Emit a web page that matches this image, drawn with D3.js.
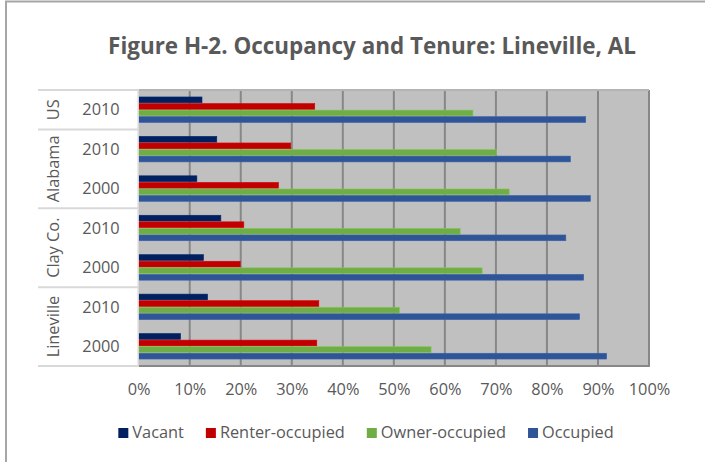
<!DOCTYPE html>
<html>
<head>
<meta charset="utf-8">
<script src="https://cdn.jsdelivr.net/npm/d3@7"></script>
<style>
  body { margin: 0; background: #fff; }
  svg text { font-family: 'Open Sans', sans-serif; fill: #595959; }
</style>
</head>
<body>
<svg id="chart" width="705" height="462"></svg>
<script>
// rows, top to bottom as drawn
const places = ["US", "Alabama", "Clay Co.", "Lineville"];
const rowPlace = ["US", "Alabama", "Alabama", "Clay Co.", "Clay Co.", "Lineville", "Lineville"];
const rowYear = ["2010", "2010", "2000", "2010", "2000", "2010", "2000"];

const seriesNames = ["Vacant", "Renter-occupied", "Owner-occupied", "Occupied"];
const seriesColors = ["#002060", "#c00000", "#70ad47", "#2f5597"];

// percent values per row
const vacant   = [12.4, 15.3, 11.4, 16.1, 12.7, 13.5, 8.2];
const renter   = [34.5, 29.8, 27.4, 20.6, 19.9, 35.3, 34.9];
const owner    = [65.5, 70.1, 72.6, 63.0, 67.3, 51.1, 57.3];
const occupied = [87.6, 84.6, 88.5, 83.7, 87.2, 86.4, 91.7];

const xTicks = [0, 10, 20, 30, 40, 50, 60, 70, 80, 90, 100];

const seriesValues = [vacant, renter, owner, occupied];
const rows = rowYear.map((y, i) => i);

const svg = d3.select("#chart");

// pick font sizes by matching widths seen in the picture
function fitSize(str, target, weight) {
  const t = svg.append("text").attr("font-size", 100).attr("font-weight", weight || "normal").text(str);
  const w = t.node().getComputedTextLength();
  t.remove();
  return 100 * target / w;
}
const labelSize = fitSize("Renter-occupied", 125);
const titleSize = fitSize("Figure H-2. Occupancy and Tenure: Lineville, AL", 528, "bold");

// outer frame (only left and top visible)
svg.append("rect")
  .attr("x", 6).attr("y", 1.5)
  .attr("width", 760).attr("height", 520)
  .attr("fill", "none")
  .attr("stroke", "#a6a6a6")
  .attr("stroke-width", 2);

svg.append("text")
  .attr("x", 372).attr("y", 54)
  .attr("text-anchor", "middle")
  .attr("font-size", titleSize)
  .attr("font-weight", "bold")
  .text("Figure H-2. Occupancy and Tenure: Lineville, AL");

const plot = { left: 138.7, right: 649, top: 90, bottom: 366 };

const x = d3.scaleLinear().domain([0, 100]).range([plot.left, plot.right]);
const y = d3.scaleBand().domain(rows).range([plot.top, plot.bottom])
  .paddingInner(1 / 3).paddingOuter(1 / 6);
const ySeries = d3.scaleBand().domain(d3.range(seriesNames.length)).range([0, y.bandwidth()]);

// plot background
svg.append("rect")
  .attr("x", plot.left).attr("y", plot.top)
  .attr("width", plot.right - plot.left).attr("height", plot.bottom - plot.top)
  .attr("fill", "#c0c0c0");

// gridlines
svg.append("g").selectAll("line")
  .data(xTicks.slice(1))
  .join("line")
  .attr("x1", d => x(d)).attr("x2", d => x(d))
  .attr("y1", plot.top).attr("y2", plot.bottom)
  .attr("stroke", "#878787")
  .attr("stroke-width", 2);

// top edge of plot
svg.append("line")
  .attr("x1", plot.left).attr("x2", plot.right)
  .attr("y1", plot.top).attr("y2", plot.top)
  .attr("stroke", "#b4b4b4").attr("stroke-width", 2);
// bottom edge
svg.append("line")
  .attr("x1", plot.left).attr("x2", plot.right + 1)
  .attr("y1", plot.bottom).attr("y2", plot.bottom)
  .attr("stroke", "#878787").attr("stroke-width", 2);

// bars
const rowG = svg.append("g").selectAll("g")
  .data(rows)
  .join("g")
  .attr("transform", r => `translate(0,${y(r)})`);

rowG.selectAll("rect")
  .data(r => seriesValues.map((vals, s) => ({ s: s, v: vals[r] })))
  .join("rect")
  .attr("x", x(0))
  .attr("y", d => ySeries(d.s) + 0.4)
  .attr("width", d => x(d.v) - x(0))
  .attr("height", ySeries.bandwidth() - 0.8)
  .attr("fill", d => seriesColors[d.s])
  .attr("stroke", d => d3.color(seriesColors[d.s]).brighter(0.4))
  .attr("stroke-width", 0.6);

// category axis: separators between places
const step = y.step();
const placeBounds = places.map(p => {
  const idx = rows.filter(r => rowPlace[r] === p);
  return { p: p, y0: y(idx[0]) - step * y.paddingInner() / 2, y1: y(idx[idx.length - 1]) + y.bandwidth() + step * y.paddingInner() / 2 };
});

svg.append("g").selectAll("line")
  .data([plot.top].concat(placeBounds.map(b => Math.min(b.y1, plot.bottom))))
  .join("line")
  .attr("x1", 38).attr("x2", plot.left)
  .attr("y1", d => d).attr("y2", d => d)
  .attr("stroke", "#d9d9d9")
  .attr("stroke-width", 2);

svg.append("line")
  .attr("x1", plot.left - 0.5).attr("x2", plot.left - 0.5)
  .attr("y1", plot.top).attr("y2", plot.bottom)
  .attr("stroke", "#d9d9d9").attr("stroke-width", 1.5);

// year labels
svg.append("g").selectAll("text")
  .data(rows)
  .join("text")
  .attr("x", 101)
  .attr("y", r => y(r) + y.bandwidth() / 2)
  .attr("dy", "0.35em")
  .attr("text-anchor", "middle")
  .attr("font-size", labelSize)
  .text(r => rowYear[r]);

// place labels, rotated
svg.append("g").selectAll("text")
  .data(placeBounds)
  .join("text")
  .attr("transform", b => `translate(53,${(b.y0 + b.y1) / 2}) rotate(-90)`)
  .attr("dy", "0.35em")
  .attr("text-anchor", "middle")
  .attr("font-size", labelSize)
  .text(b => b.p);

// x axis labels
const xAxis = d3.axisBottom(x)
  .tickValues(xTicks)
  .tickFormat(d => d + "%")
  .tickSize(0)
  .tickPadding(0);

const xg = svg.append("g")
  .attr("transform", `translate(0,${plot.bottom})`)
  .call(xAxis);
xg.select(".domain").remove();
xg.selectAll("text")
  .attr("y", 29)
  .attr("dy", 0)
  .attr("font-size", labelSize)
  .attr("font-family", null)
  .attr("fill", "#595959");

// legend
const legend = svg.append("g");
let lx = 0;
seriesNames.forEach((name, i) => {
  legend.append("rect")
    .attr("x", lx).attr("y", 428)
    .attr("width", 10).attr("height", 10)
    .attr("fill", seriesColors[i]);
  const t = legend.append("text")
    .attr("x", lx + 14).attr("y", 438)
    .attr("font-size", labelSize)
    .text(name);
  lx += 14 + t.node().getComputedTextLength() + 22;
});
lx -= 22;
legend.attr("transform", `translate(${366 - lx / 2},0)`);
</script>
</body>
</html>
